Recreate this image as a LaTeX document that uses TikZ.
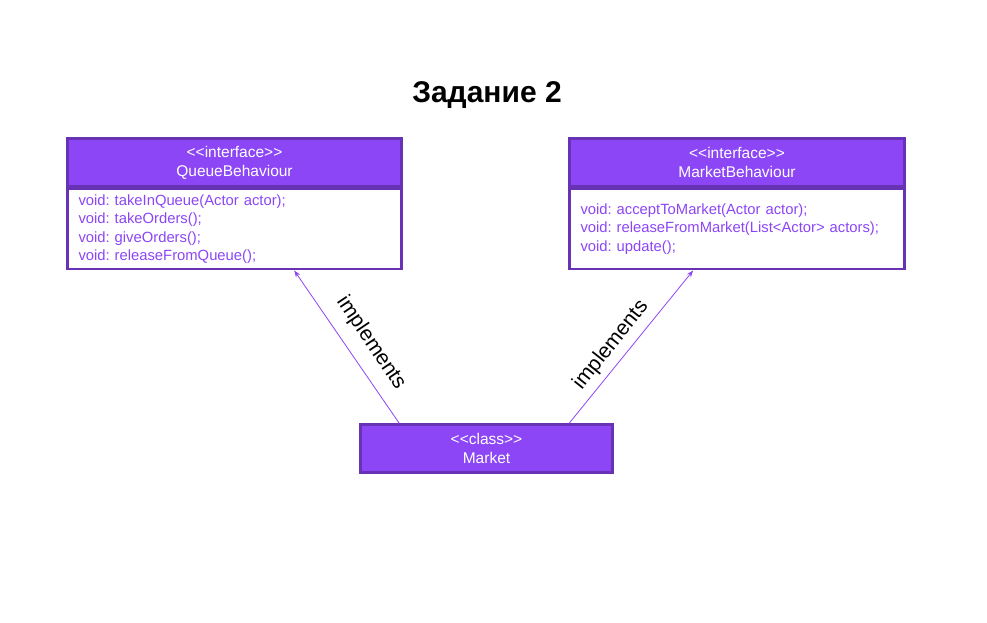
\documentclass[tikz,border=0pt]{standalone}
\usepackage{fontspec}
\setmainfont{Liberation Sans}[Ligatures=NoCommon]
\usetikzlibrary{positioning,calc,arrows.meta}

\definecolor{umlfill}{RGB}{140,70,245}
\definecolor{umledge}{RGB}{104,50,180}

\tikzset{
  headbox/.style={draw=umledge, line width=2.6pt, fill=umlfill, text=white,
    minimum height=48pt, align=center, inner sep=0pt,
    font=\fontsize{15.5}{19}\selectfont},
  bodybox/.style={draw=umledge, line width=2.6pt, fill=white, text=umlfill,
    minimum height=80pt, align=left, inner sep=0pt, anchor=north,
    font=\fontsize{14.8}{18.3}\selectfont},
  impl/.style={draw=umlfill, line width=0.8pt, -{Stealth[length=7pt,width=5pt]}},
  impllabel/.style={font=\fontsize{21}{21}\selectfont, text=black}
}

\begin{document}
\frenchspacing
\begin{tikzpicture}[x=1pt,y=-1pt]
  \useasboundingbox (0,0) rectangle (987,622);

  \node[font=\fontsize{30}{30}\selectfont\bfseries] (title) at (487,95) {Задание 2};

  % QueueBehaviour
  \node[headbox, minimum width=334pt] (qhead) at (234.5,162.5) {<{}<interface>{}>\\QueueBehaviour};
  \node[bodybox, minimum width=334pt, text width=312pt] (qbody) at (qhead.south)
    {void: takeInQueue(Actor actor);\\void: takeOrders();\\void: giveOrders();\\void: releaseFromQueue();};

  % MarketBehaviour
  \node[headbox, minimum width=335pt] (mhead) at (737,162.5) {<{}<interface>{}>\\MarketBehaviour};
  \node[bodybox, minimum width=335pt, text width=313pt] (mbody) at (mhead.south)
    {void: acceptToMarket(Actor actor);\\void: releaseFromMarket(List<Actor> actors);\\void: update();};

  % Market
  \node[headbox, minimum width=252pt] (market) at (486.5,448.5) {<{}<class>{}>\\Market};

  \draw[impl] ($(market.north west)+(40,0)$) -- ($(qbody.south west)+(228,0)$);
  \draw[impl] ($(market.north west)+(210,0)$) -- ($(mbody.south west)+(125,0)$);

  \node[impllabel, rotate=-56] (lq) at (371,343) {implements};
  \node[impllabel, rotate=51.5] (lm) at (611,345) {implements};
\end{tikzpicture}
\end{document}
